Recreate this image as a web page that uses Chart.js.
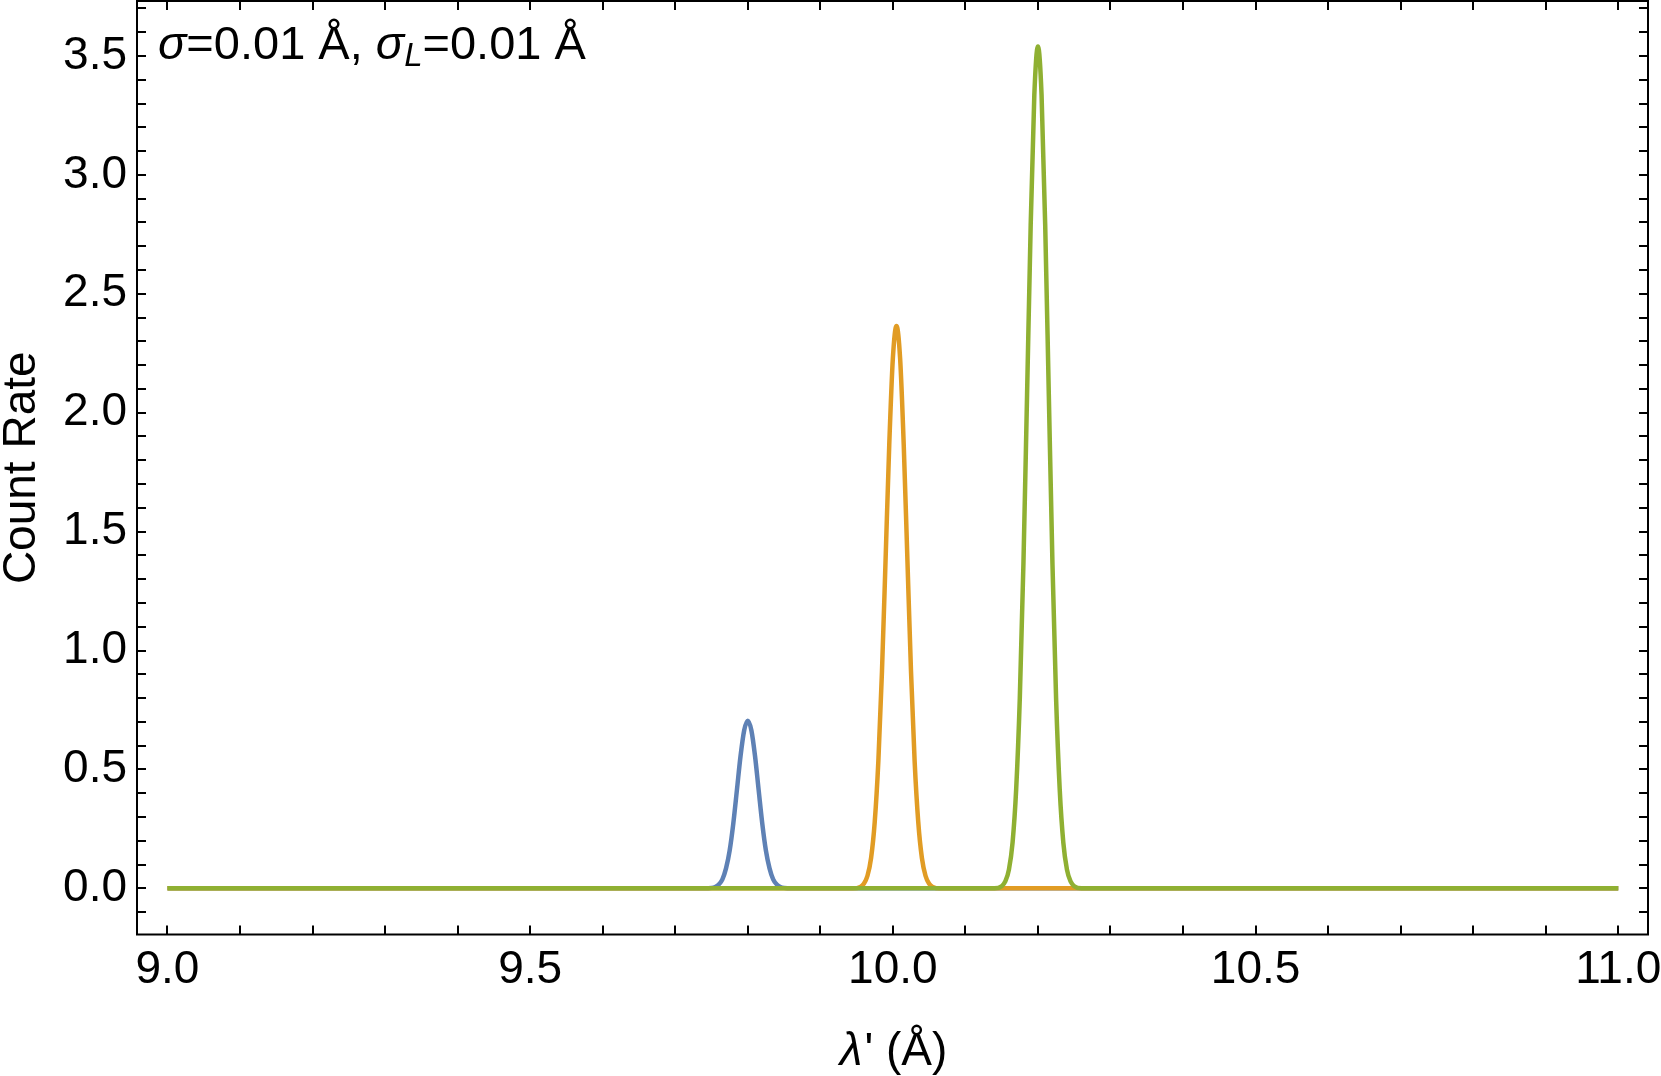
<!DOCTYPE html>
<html>
<head>
<meta charset="utf-8">
<script src="https://cdn.jsdelivr.net/npm/chart.js@4/dist/chart.umd.min.js"></script>
<style>
  html, body { margin: 0; padding: 0; background: #ffffff; }
  #wrap { width: 1661px; height: 1076px; position: relative; }
</style>
</head>
<body>
<div id="wrap"><canvas id="c"></canvas></div>
<script>
// ---- data ----
const xTickValues = [9.0, 9.1, 9.2, 9.3, 9.4, 9.5, 9.6, 9.7, 9.8, 9.9, 10.0, 10.1, 10.2, 10.3, 10.4, 10.5, 10.6, 10.7, 10.8, 10.9, 11.0];
const xLabelValues = [9.0, 9.5, 10.0, 10.5, 11.0];
const yTickValues = [-0.1, 0.0, 0.1, 0.2, 0.3, 0.4, 0.5, 0.6, 0.7, 0.8, 0.9, 1.0, 1.1, 1.2, 1.3, 1.4, 1.5, 1.6, 1.7, 1.8, 1.9, 2.0, 2.1, 2.2, 2.3, 2.4, 2.5, 2.6, 2.7, 2.8, 2.9, 3.0, 3.1, 3.2, 3.3, 3.4, 3.5, 3.6, 3.7];
const yLabelValues = [0.0, 0.5, 1.0, 1.5, 2.0, 2.5, 3.0, 3.5];

const blueX = [9.0, 9.74, 9.75, 9.755, 9.76, 9.765, 9.77, 9.775, 9.78, 9.785, 9.79, 9.795, 9.8, 9.805, 9.81, 9.815, 9.82, 9.825, 9.83, 9.835, 9.84, 9.845, 9.85, 9.86, 11.0];
const blueY = [0, 0, 0.002, 0.006, 0.016, 0.038, 0.084, 0.159, 0.272, 0.413, 0.556, 0.664, 0.705, 0.664, 0.556, 0.413, 0.272, 0.159, 0.084, 0.038, 0.016, 0.006, 0.002, 0, 0];

const orangeX = [9.0, 9.945, 9.955, 9.96, 9.965, 9.97, 9.975, 9.98, 9.985, 9.99, 9.995, 10.0, 10.005, 10.01, 10.015, 10.02, 10.025, 10.03, 10.035, 10.04, 10.045, 10.05, 10.055, 10.065, 11.0];
const orangeY = [0, 0, 0.006, 0.019, 0.053, 0.128, 0.279, 0.535, 0.913, 1.386, 1.863, 2.228, 2.365, 2.228, 1.863, 1.386, 0.913, 0.535, 0.279, 0.128, 0.053, 0.019, 0.006, 0, 0];

const greenX = [9.0, 10.14, 10.15, 10.155, 10.16, 10.165, 10.17, 10.175, 10.18, 10.185, 10.19, 10.195, 10.2, 10.205, 10.21, 10.215, 10.22, 10.225, 10.23, 10.235, 10.24, 10.245, 10.25, 10.26, 11.0];
const greenY = [0, 0, 0.009, 0.029, 0.079, 0.192, 0.417, 0.800, 1.366, 2.074, 2.789, 3.335, 3.540, 3.335, 2.789, 2.074, 1.366, 0.800, 0.417, 0.192, 0.079, 0.029, 0.009, 0, 0];

const xTitleItalic = 'λ';
const xTitleRest = "' (Å)";
const yTitle = 'Count Rate';

// ---- styling ----
const FONT = '"Liberation Sans", Arial, sans-serif';
const toPts = (xs, ys) => xs.map((x, i) => ({ x: x, y: ys[i] }));
const isLabel = (list, v) => list.some(l => Math.abs(l - v) < 1e-6);

const framePlugin = {
  id: 'frame',
  afterDatasetsDraw(chart) {
    const ctx = chart.ctx;
    const a = chart.chartArea;
    const xs = chart.scales.x, ys = chart.scales.y;
    const tl = 9;
    ctx.save();
    ctx.strokeStyle = '#000';
    ctx.lineWidth = 2;
    ctx.strokeRect(a.left, a.top, a.right - a.left, a.bottom - a.top);
    ctx.beginPath();
    xTickValues.forEach(v => {
      const px = Math.round(xs.getPixelForValue(v));
      ctx.moveTo(px, a.bottom); ctx.lineTo(px, a.bottom - tl);
      ctx.moveTo(px, a.top); ctx.lineTo(px, a.top + tl);
    });
    yTickValues.forEach(v => {
      const py = Math.round(ys.getPixelForValue(v));
      ctx.moveTo(a.left, py); ctx.lineTo(a.left + tl, py);
      ctx.moveTo(a.right, py); ctx.lineTo(a.right - tl, py);
    });
    ctx.stroke();

    // annotation
    ctx.fillStyle = '#000';
    ctx.textBaseline = 'alphabetic';
    ctx.textAlign = 'left';
    const fs = 47;
    const norm = fs + 'px ' + FONT;
    const ital = 'italic ' + fs + 'px ' + FONT;
    const sub = 'italic ' + Math.round(fs * 0.7) + 'px ' + FONT;
    let x = a.left + 21;
    const base = a.top + 58;
    const parts = [
      ['σ', ital, 0], ['=0.01 Å, ', norm, 0], ['σ', ital, 0], ['L', sub, 7], ['=0.01 Å', norm, 0]
    ];
    parts.forEach(p => {
      ctx.font = p[1];
      ctx.fillText(p[0], x, base + p[2]);
      x += ctx.measureText(p[0]).width;
    });

    // x title
    const tfs = 46;
    ctx.font = 'italic ' + tfs + 'px ' + FONT;
    const w1 = ctx.measureText(xTitleItalic).width;
    ctx.font = tfs + 'px ' + FONT;
    const w2 = ctx.measureText(xTitleRest).width;
    let tx = (a.left + a.right) / 2 - (w1 + w2) / 2;
    const tb = 1065;
    ctx.font = 'italic ' + tfs + 'px ' + FONT;
    ctx.fillText(xTitleItalic, tx, tb);
    ctx.font = tfs + 'px ' + FONT;
    ctx.fillText(xTitleRest, tx + w1 + 2, tb);

    // y title
    ctx.save();
    ctx.translate(35, (a.top + a.bottom) / 2);
    ctx.rotate(-Math.PI / 2);
    ctx.textAlign = 'center';
    ctx.font = tfs + 'px ' + FONT;
    ctx.fillText(yTitle, 0, 0);
    ctx.restore();
    ctx.restore();
  }
};

const commonLine = { pointRadius: 0, borderWidth: 4.5, fill: false, cubicInterpolationMode: 'monotone', borderCapStyle: 'butt', borderJoinStyle: 'round' };

new Chart(document.getElementById('c'), {
  type: 'line',
  data: {
    datasets: [
      Object.assign({ label: 'blue', data: toPts(blueX, blueY), borderColor: '#5E81B5', order: 3 }, commonLine),
      Object.assign({ label: 'orange', data: toPts(orangeX, orangeY), borderColor: '#E19C24', order: 2 }, commonLine),
      Object.assign({ label: 'green', data: toPts(greenX, greenY), borderColor: '#8FB032', order: 1 }, commonLine)
    ]
  },
  options: {
    responsive: true,
    maintainAspectRatio: false,
    animation: false,
    layout: { padding: { left: 0, top: 1, right: 13, bottom: 0 } },
    plugins: { legend: { display: false }, tooltip: { enabled: false } },
    scales: {
      x: {
        type: 'linear',
        min: 8.958, max: 11.041,
        afterBuildTicks: s => { s.ticks = xTickValues.map(v => ({ value: v })); },
        afterFit: s => { s.height = 141.5; s.paddingLeft = 0; s.paddingRight = 0; },
        grid: { display: true, drawOnChartArea: false, drawTicks: false, color: 'rgba(0,0,0,0)' },
        border: { display: false },
        ticks: {
          autoSkip: false, maxRotation: 0, padding: 8, color: '#000',
          font: { family: FONT, size: 46 },
          callback: v => isLabel(xLabelValues, v) ? v.toFixed(1) : ''
        }
      },
      y: {
        type: 'linear',
        min: -0.194, max: 3.731,
        afterBuildTicks: s => { s.ticks = yTickValues.map(v => ({ value: v })); },
        afterFit: s => { s.width = 137; s.paddingTop = 0; s.paddingBottom = 0; },
        grid: { display: true, drawOnChartArea: false, drawTicks: false, color: 'rgba(0,0,0,0)' },
        border: { display: false },
        ticks: {
          autoSkip: false, padding: 10, color: '#000',
          font: { family: FONT, size: 46 },
          callback: v => isLabel(yLabelValues, v) ? v.toFixed(1) : ''
        }
      }
    }
  },
  plugins: [framePlugin]
});
</script>
</body>
</html>
